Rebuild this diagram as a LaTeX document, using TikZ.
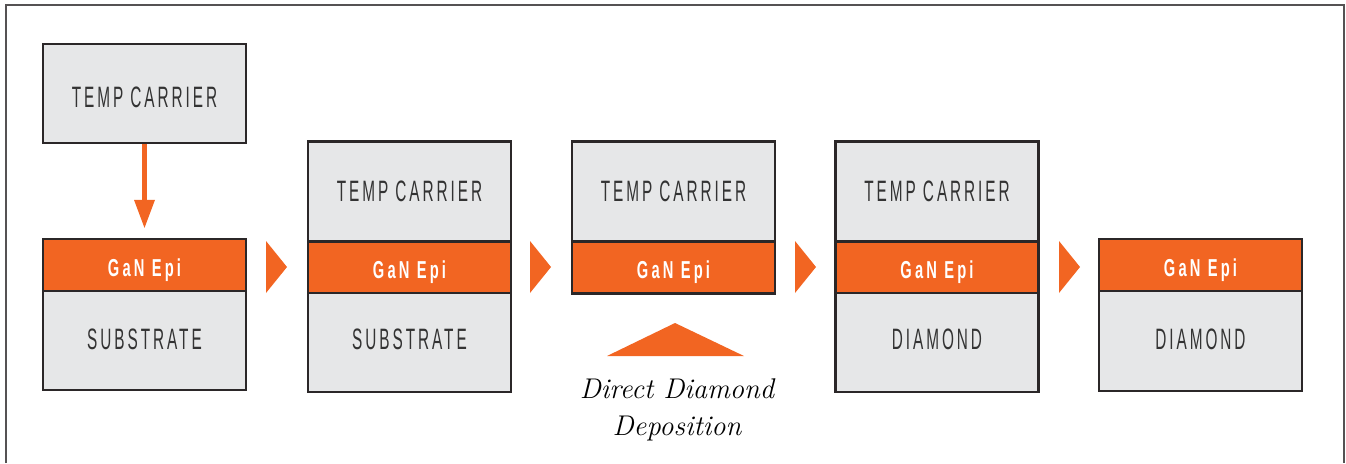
\documentclass[tikz,border=0pt]{standalone}
\usepackage{fontspec}
\usetikzlibrary{calc}
\setmainfont{Latin Modern Roman}
\newfontfamily\lblfont[FakeStretch=0.52,LetterSpace=10]{Liberation Sans}
\newfontfamily\ganfont[FakeStretch=0.6,LetterSpace=13]{Liberation Sans Bold}
\definecolor{gorange}{HTML}{F26522}
\definecolor{lgray}{HTML}{E6E7E8}
\definecolor{bdark}{HTML}{2B2728}
\definecolor{tgray}{HTML}{333333}
\begin{document}
\begin{tikzpicture}[x=1pt,y=-1pt,
  layer/.style={draw=bdark,line width=2.3pt,minimum width=203pt,inner sep=0pt,text depth=0pt},
  graylayer/.style={layer,fill=lgray,minimum height=99pt,text=tgray,text height=21pt,font=\lblfont\fontsize{29.5}{30}\selectfont},
  ganlayer/.style={layer,fill=gorange,minimum height=52pt,text=white,text height=17pt,font=\ganfont\fontsize{24.5}{25}\selectfont},
  caption/.style={font=\itshape\fontsize{28.5}{37}\selectfont,text=black,align=center,inner sep=0pt}]
\useasboundingbox (0,0) rectangle (1346,463);
% frame (open at the bottom)
\draw[line width=1.5pt,draw=bdark!80] (6,463) -- (6,5) -- (1344,5) -- (1344,463);
% column 1
\node[graylayer,minimum height=99pt] (t1) at (144.5,93.5) {\raisebox{-3pt}{TEMP CARRIER}};
\node[ganlayer] (g1) at (144.5,265) {\raisebox{-3pt}{GaN Epi}};
\node[graylayer] (s1) at (144.5,340.5) {\raisebox{2pt}{SUBSTRATE}};
\draw[gorange,line width=5pt] (t1.south) -- ($(g1.north)+(0,-37)$);
\fill[gorange] ($(g1.north)+(-10.5,-38)$) -- ($(g1.north)+(10.5,-38)$) -- ($(g1.north)+(0,-10)$) -- cycle;
% column 2
\node[graylayer,minimum height=100pt] (t2) at (409.5,191.5) {\raisebox{1pt}{TEMP CARRIER}};
\node[ganlayer] (g2) at (409.5,267.5) {\raisebox{-2.5pt}{GaN Epi}};
\node[graylayer] (s2) at (409.5,342.5) {\raisebox{4pt}{SUBSTRATE}};
% column 3
\node[graylayer,minimum height=100pt] (t3) at (673.5,191.5) {\raisebox{1pt}{TEMP CARRIER}};
\node[ganlayer] (g3) at (673.5,267.5) {\raisebox{-2.5pt}{GaN Epi}};
\fill[gorange] (607,356) -- (675,323) -- (744,356) -- cycle;
\node[caption] (dd) at (677,410) {Direct Diamond\\Deposition};
% column 4
\node[graylayer,minimum height=100pt] (t4) at (937,191.5) {\raisebox{1pt}{TEMP CARRIER}};
\node[ganlayer] (g4) at (937,267.5) {\raisebox{-2.5pt}{GaN Epi}};
\node[graylayer] (s4) at (937,342.5) {\raisebox{4pt}{DIAMOND}};
% column 5
\node[ganlayer] (g5) at (1200.5,265) {\raisebox{-2.5pt}{GaN Epi}};
\node[graylayer,minimum height=100pt] (s5) at (1200.5,341) {\raisebox{2pt}{DIAMOND}};
% step markers
\foreach \xa in {266,530,795,1059}{
  \fill[gorange] (\xa,241) -- (\xa+21,267) -- (\xa,293) -- cycle;
}
\end{tikzpicture}
\end{document}
